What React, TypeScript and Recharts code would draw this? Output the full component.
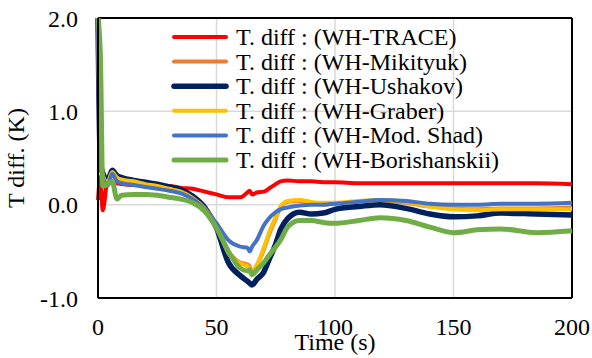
import React from 'react';
import { LineChart, Line, XAxis, YAxis, CartesianGrid, ReferenceLine, Legend } from 'recharts';

const time = [0, 1, 2, 4, 6, 8, 10, 15, 20, 25, 30, 35, 40, 45, 50, 55, 60, 63, 64, 65, 67, 70, 72, 75, 77, 80, 85, 90, 95, 100, 110, 119, 130, 140, 150, 160, 170, 185, 200];
const traceDiff = [0.05, 0.3, -0.06, 0.24, 0.23, 0.23, 0.22, 0.21, 0.21, 0.2, 0.2, 0.18, 0.17, 0.14, 0.11, 0.08, 0.08, 0.13, 0.15, 0.11, 0.13, 0.14, 0.17, 0.22, 0.25, 0.26, 0.25, 0.25, 0.24, 0.24, 0.23, 0.23, 0.23, 0.23, 0.23, 0.23, 0.23, 0.23, 0.22];
const mikityukDiff = [2.0, 0.45, 0.32, 0.24, 0.34, 0.28, 0.26, 0.23, 0.21, 0.19, 0.16, 0.13, 0.06, -0.05, -0.22, -0.5, -0.62, -0.64, -0.66, -0.72, -0.65, -0.48, -0.33, -0.15, -0.03, 0.03, 0.04, 0.02, 0.0, 0.01, 0.03, 0.04, 0.02, -0.02, -0.04, -0.05, -0.04, -0.04, -0.03];
const ushakovDiff = [2.0, 0.45, 0.34, 0.26, 0.37, 0.31, 0.29, 0.26, 0.24, 0.22, 0.19, 0.16, 0.09, -0.03, -0.25, -0.62, -0.76, -0.82, -0.84, -0.86, -0.8, -0.72, -0.6, -0.42, -0.27, -0.15, -0.08, -0.1, -0.09, -0.05, -0.02, 0.0, -0.04, -0.1, -0.13, -0.12, -0.09, -0.1, -0.11];
const graberDiff = [2.0, 0.45, 0.32, 0.24, 0.35, 0.29, 0.27, 0.25, 0.22, 0.2, 0.17, 0.14, 0.07, -0.04, -0.22, -0.52, -0.63, -0.66, -0.68, -0.73, -0.65, -0.46, -0.31, -0.13, -0.02, 0.04, 0.05, 0.03, 0.02, 0.02, 0.04, 0.05, 0.03, -0.02, -0.05, -0.06, -0.05, -0.05, -0.05];
const modShadDiff = [2.0, 0.42, 0.3, 0.2, 0.33, 0.25, 0.23, 0.21, 0.19, 0.17, 0.15, 0.12, 0.06, -0.05, -0.2, -0.38, -0.45, -0.46, -0.5, -0.45, -0.38, -0.22, -0.15, -0.08, -0.05, -0.03, -0.01, 0.0, 0.0, 0.01, 0.03, 0.05, 0.04, 0.01, 0.0, 0.0, 0.01, 0.01, 0.02];
const borishanskiiDiff = [2.0, 1.6, 0.2, 0.22, 0.25, 0.06, 0.1, 0.11, 0.11, 0.1, 0.08, 0.06, 0.02, -0.07, -0.25, -0.5, -0.68, -0.71, -0.7, -0.75, -0.7, -0.62, -0.55, -0.45, -0.38, -0.24, -0.17, -0.17, -0.19, -0.2, -0.17, -0.14, -0.17, -0.24, -0.3, -0.27, -0.26, -0.3, -0.28];

const seriesNames = [
  'T. diff : (WH-TRACE)',
  'T. diff : (WH-Mikityuk)',
  'T. diff : (WH-Ushakov)',
  'T. diff : (WH-Graber)',
  'T. diff : (WH-Mod. Shad)',
  'T. diff : (WH-Borishanskii)',
];
const xTicks = [0, 50, 100, 150, 200];
const yTicks = [-1, 0, 1, 2];
const xLabel = 'Time (s)';
const yLabel = 'T diff. (K)';

const data = time.map((t, i) => ({
  t,
  trace: traceDiff[i],
  mikityuk: mikityukDiff[i],
  ushakov: ushakovDiff[i],
  graber: graberDiff[i],
  modShad: modShadDiff[i],
  borishanskii: borishanskiiDiff[i],
}));

const FONT = "'Liberation Serif', 'Times New Roman', 'DejaVu Serif', serif";
const textStyle = { fontFamily: FONT, fontSize: 24 };

const series = [
  { key: 'trace', color: '#FF0000', width: 4 },
  { key: 'mikityuk', color: '#ED7D31', width: 4 },
  { key: 'ushakov', color: '#002060', width: 5.5 },
  { key: 'graber', color: '#FFC000', width: 4 },
  { key: 'modShad', color: '#4472C4', width: 4 },
  { key: 'borishanskii', color: '#70AD47', width: 5 },
];

function LegendBox() {
  return (
    <svg width={390} height={160} style={{ display: 'block' }}>
      {series.map((s, i) => {
        const y = 13 + i * 24.6;
        return (
          <g key={s.key}>
            <line x1={4} x2={56} y1={y} y2={y} stroke={s.color} strokeWidth={s.width} strokeLinecap="round" />
            <text x={66} y={y} dominantBaseline="central" style={textStyle} fill="#000">
              {seriesNames[i]}
            </text>
          </g>
        );
      })}
    </svg>
  );
}

const YLabel = () => (
  <text
    x={16}
    y={158}
    transform="rotate(-90 16 158)"
    textAnchor="middle"
    dominantBaseline="central"
    style={textStyle}
    fill="#000"
  >
    {yLabel}
  </text>
);

export default function App() {
  return (
    <div style={{ position: 'absolute', left: 0, top: 0, width: 592, height: 358, background: '#fff', fontFamily: FONT }}>
      <LineChart width={592} height={358} data={data} margin={{ top: 18, right: 20, bottom: 0, left: 0 }} style={{ fontFamily: FONT }}>
        <CartesianGrid stroke="#d9d9d9" strokeWidth={1.5} />
        <XAxis
          dataKey="t"
          type="number"
          domain={[0, 200]}
          ticks={xTicks}
          interval={0}
          height={60}
          tickSize={0}
          tickMargin={20}
          axisLine={{ stroke: '#000', strokeWidth: 2 }}
          tickLine={false}
          tick={{ fill: '#000', fontSize: 24, fontFamily: FONT, style: textStyle }}
          label={{ value: xLabel, position: 'insideBottom', offset: 8, fill: '#000', fontSize: 24, fontFamily: FONT, style: textStyle }}
        />
        <YAxis
          type="number"
          domain={[-1, 2]}
          ticks={yTicks}
          interval={0}
          allowDataOverflow
          width={98}
          tickSize={0}
          tickMargin={20}
          tickFormatter={(v: number) => v.toFixed(1)}
          axisLine={{ stroke: '#000', strokeWidth: 2 }}
          tickLine={false}
          tick={{ fill: '#000', fontSize: 24, fontFamily: FONT, style: textStyle }}
          label={YLabel}
        />
        <ReferenceLine y={2} stroke="#000" strokeWidth={2} />
        <ReferenceLine x={200} stroke="#000" strokeWidth={2} />
        {series.map((s) => (
          <Line
            key={s.key}
            type="monotone"
            dataKey={s.key}
            stroke={s.color}
            strokeWidth={s.width}
            dot={false}
            activeDot={false}
            isAnimationActive={false}
          />
        ))}
        <Legend
          layout="vertical"
          align="center"
          verticalAlign="middle"
          content={() => <LegendBox />}
          wrapperStyle={{ left: 170, top: 24, width: 390, height: 160 }}
        />
      </LineChart>
    </div>
  );
}
